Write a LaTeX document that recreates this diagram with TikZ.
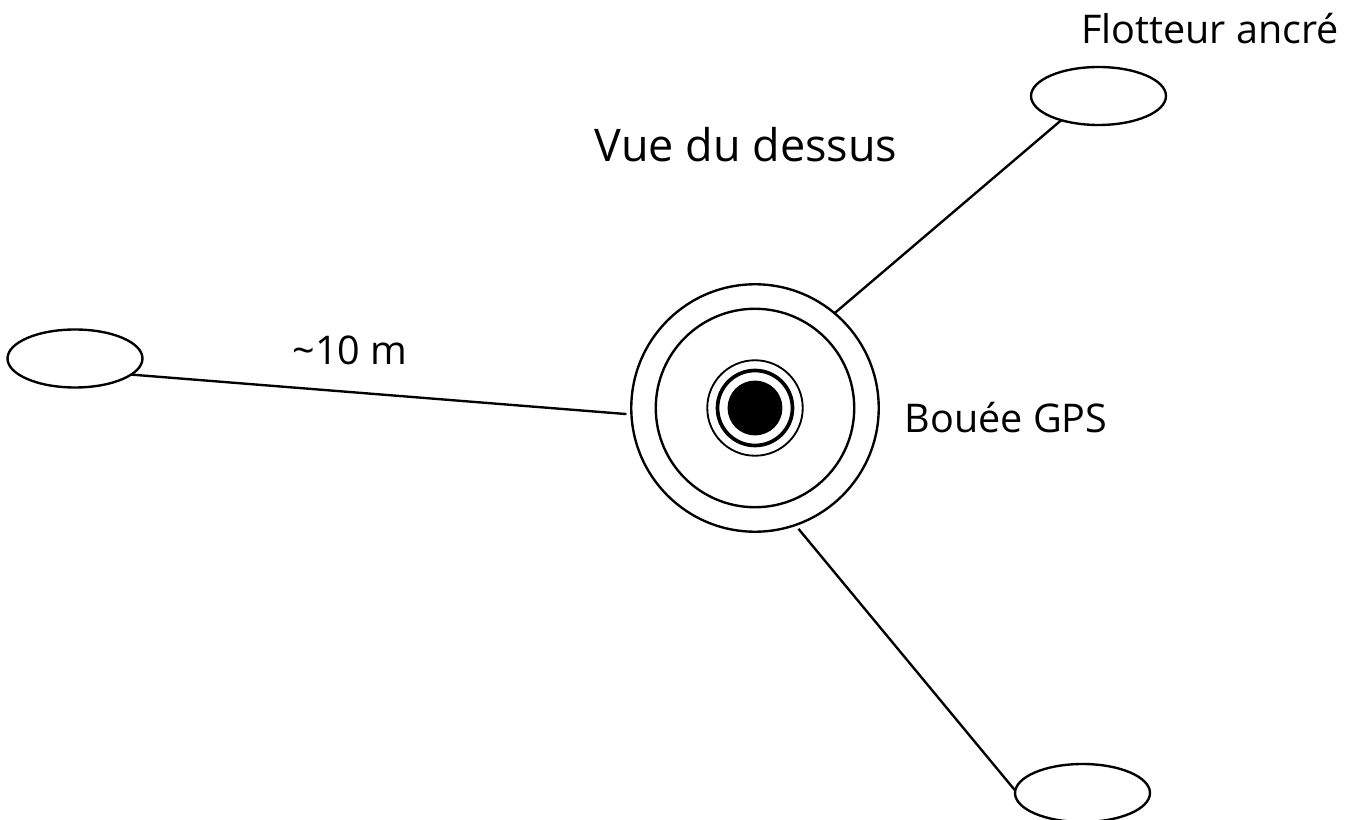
\documentclass[tikz,border=0pt]{standalone}
\usepackage{fontspec}
\usetikzlibrary{shapes.geometric}
\setmainfont{Open Sans}
\begin{document}
\begin{tikzpicture}[x=0.02cm, y=-0.02cm, line width=1.35pt,
          ring/.style={draw, circle, inner sep=0pt, outer sep=0pt},
          float/.style={draw, ellipse, inner sep=0pt, outer sep=0pt, minimum width=2.7cm, minimum height=1.16cm},
          label/.style={anchor=base, font=\fontsize{22.5}{26}\selectfont}]
            \useasboundingbox (0,0) rectangle (1357,820);
            % Buoy
            \node[ring, minimum size=4.95cm] (outer) at (755,408) {};
            \node[ring, minimum size=3.97cm] (inner) at (755,408) {};
            \node[ring, minimum size=1.91cm, line width=1.05pt] (ringa) at (755,408) {};
            \node[ring, minimum size=1.5cm, line width=2.1pt] (ringb) at (755,408) {};
            \node[ring, minimum size=1.05cm, fill=black] (core) at (755,408) {};
            % Floats
            \node[float] (floata) at (1098.5,96) {};
            \node[float] (floatb) at (75,358.5) {};
            \node[float] (floatc) at (1082.5,793) {};
            \draw (floata.213) -- (outer.50);
            \draw[shorten >=0.1cm] (floatb.-16) -- (outer.183);
            \draw[shorten >=0.1cm] (floatc.178) -- (outer.-71);
            % Labels
            \node[label, font=\fontsize{25.6}{30}\selectfont] (title) at (746,162) {Vue du dessus};
            \node[label] (gps) at (1006,433) {Bouée GPS};
            \node[label] (ancre) at (1210,44) {Flotteur ancré};
            \node[label] (dist) at (350,365) {\textasciitilde10 m};
\end{tikzpicture}
\end{document}
